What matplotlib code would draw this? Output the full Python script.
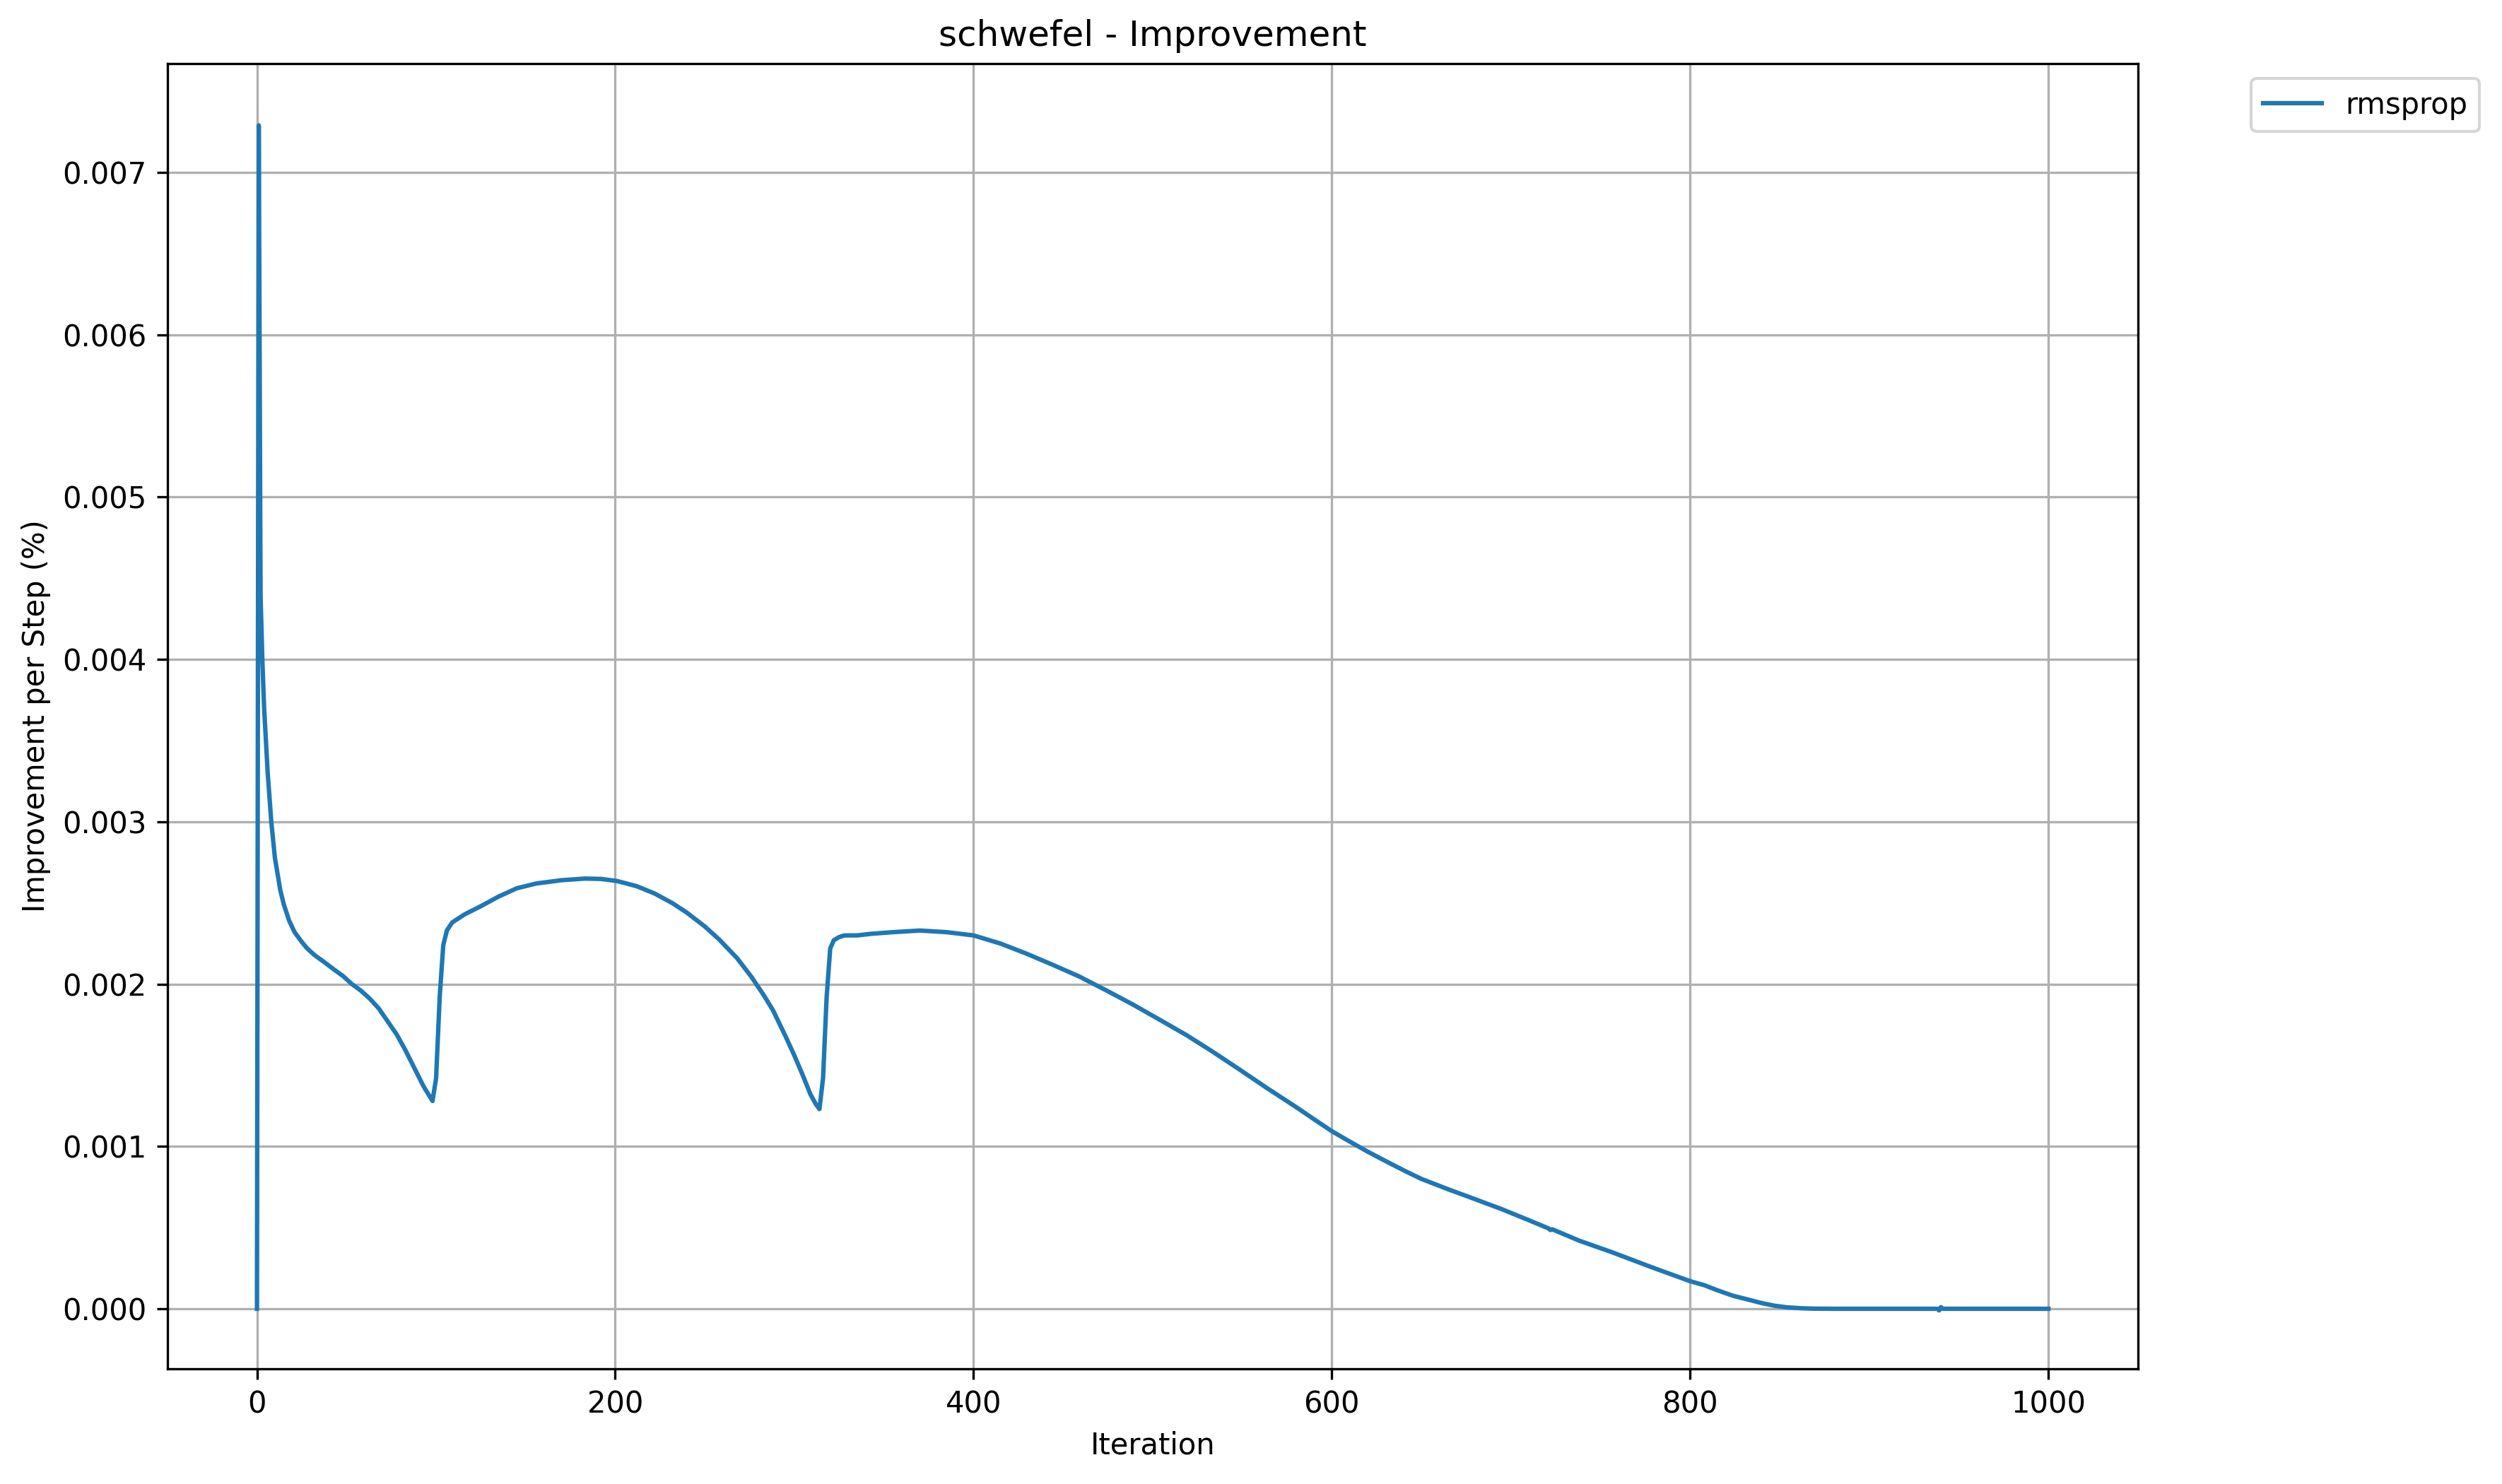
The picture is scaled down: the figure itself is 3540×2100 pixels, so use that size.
import matplotlib
matplotlib.use("Agg")
import matplotlib.pyplot as plt

iterations = [0, 1, 2, 3, 4, 5, 6, 7, 8, 10, 13, 15, 18, 21, 25, 28, 32, 37, 43,
              48, 53, 58, 63, 68, 73, 78, 83, 88, 93, 98, 100, 102, 104, 106, 109,
              116, 125, 135, 145, 156, 170, 183, 192, 201, 212, 222, 232, 240, 250,
              258, 268, 276, 283, 288, 295, 300, 305, 309, 312, 314, 316, 318, 320,
              322, 325, 328, 335, 343, 355, 370, 385, 400, 415, 429, 444, 459, 474,
              489, 504, 519, 534, 549, 564, 580, 590, 600, 610, 620, 630, 641, 650,
              665, 680, 695, 709, 721, 722, 723, 738, 756, 768, 780, 790, 800, 808,
              815, 824, 833, 840, 847, 854, 861, 868, 880, 900, 920, 938, 939, 940,
              941, 960, 980, 1000]
improvement = [0.0, 0.00729, 0.0044, 0.0040, 0.0037, 0.0035, 0.0033, 0.00315, 0.0030,
               0.00278, 0.00258, 0.00249, 0.00239, 0.00232, 0.00226, 0.00222, 0.00218,
               0.00214, 0.00209, 0.00205, 0.0020, 0.00196, 0.00191, 0.00185, 0.00177,
               0.00169, 0.00159, 0.00148, 0.00137, 0.00128, 0.00142, 0.00192, 0.00224,
               0.00233, 0.00238, 0.00243, 0.00248, 0.00254, 0.00259, 0.00262, 0.00264,
               0.00265, 0.002648, 0.002635, 0.002603, 0.002558, 0.002498, 0.00244,
               0.002355, 0.002275, 0.00216, 0.002045, 0.00193, 0.00184, 0.00168, 0.00156,
               0.00143, 0.00132, 0.00126, 0.00123, 0.00142, 0.00192, 0.00222, 0.00227,
               0.00229, 0.0023, 0.0023, 0.00231, 0.00232, 0.00233, 0.00232, 0.0023,
               0.00225, 0.00219, 0.00212, 0.002047, 0.001962, 0.001874, 0.00178,
               0.001685, 0.00158, 0.00147, 0.001358, 0.001243, 0.001168, 0.001094,
               0.00103, 0.000968, 0.00091, 0.000848, 0.0008, 0.000736, 0.000675,
               0.000613, 0.00055, 0.000495, 0.000485, 0.00049, 0.00042, 0.00035, 0.0003,
               0.00025, 0.00021, 0.00017, 0.000145, 0.000115, 0.00008, 0.000055,
               0.000035, 0.000019, 0.000009, 0.000004, 0.000001, 0.0, 0.0, 0.0, 0.0,
               -0.00001, 0.00001, 0.0, 0.0, 0.0, 0.0]

series_name = "rmsprop"
title = "schwefel - Improvement"
x_label = "Iteration"
y_label = "Improvement per Step (%)"

fig = plt.figure(figsize=(11.8, 7), dpi=300)
ax = fig.add_axes([0.0669, 0.0776, 0.7876, 0.8795])
ax.plot(iterations, improvement, color="#1f77b4", linewidth=1.5, label=series_name)
ax.set_title(title, fontsize=12)
ax.set_xlabel(x_label)
ax.set_ylabel(y_label)
ax.grid(True)
ax.set_ylim(-0.00037, 0.00767)
ax.set_xlim(-50, 1050)
ax.legend(bbox_to_anchor=(1.05, 1), loc="upper left")
fig.savefig("out.png", dpi=300)
